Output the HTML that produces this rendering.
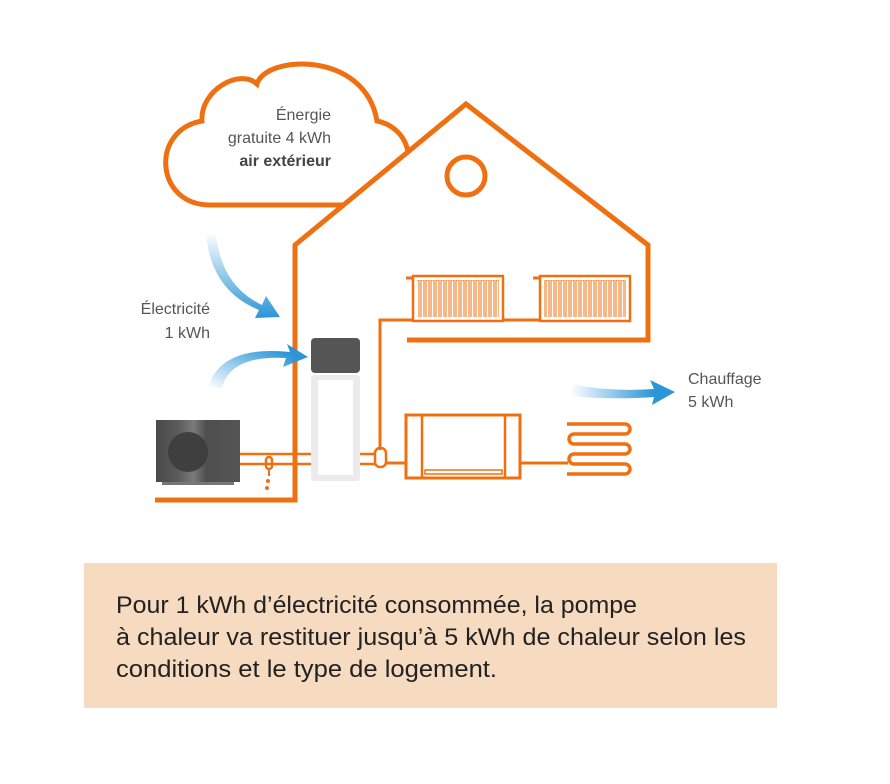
<!DOCTYPE html>
<html><head><meta charset="utf-8"><style>
html,body{margin:0;padding:0;background:#fff;}
svg{display:block;}
text{font-family:"Liberation Sans Narrow","Liberation Sans",sans-serif;}
</style></head><body>
<svg width="890" height="784" viewBox="0 0 890 784" xmlns="http://www.w3.org/2000/svg">
<defs>
<linearGradient id="g1" x1="0" y1="0" x2="0" y2="1"><stop offset="0" stop-color="#2b95d6" stop-opacity="0"/><stop offset="1" stop-color="#2b95d6"/></linearGradient>
<linearGradient id="g2" x1="0" y1="1" x2="1" y2="0"><stop offset="0" stop-color="#2b95d6" stop-opacity="0"/><stop offset="0.8" stop-color="#2b95d6"/></linearGradient>
<linearGradient id="g3" x1="0" y1="0" x2="1" y2="0"><stop offset="0" stop-color="#2b95d6" stop-opacity="0"/><stop offset="0.8" stop-color="#2b95d6"/></linearGradient>
<pattern id="rad" width="5" height="40" patternUnits="userSpaceOnUse"><rect x="1" y="0" width="3" height="40" fill="none" stroke="#ee7010" stroke-width="1"/></pattern>
<linearGradient id="unit" x1="0" y1="0" x2="1" y2="0"><stop offset="0" stop-color="#4a4a4a"/><stop offset="0.25" stop-color="#5a5a5a"/><stop offset="0.45" stop-color="#7a7a7a"/><stop offset="0.6" stop-color="#4e4e4e"/><stop offset="1" stop-color="#555"/></linearGradient>
</defs>
<g fill="none" stroke="#ee7010" stroke-width="5">
<path d="M345,205 L210,205 C155,205 150,130 202,121 C200,90 240,68 257,84 C265,55 365,50 377,121 C392,124 405,135 408,152"/>
<path d="M155,500 L295,500 L295,245 L466,104 L648,245 L648,340 L407,340"/>
<circle cx="466" cy="176" r="19"/>
</g>
<g fill="none" stroke="#ee7010">
<path d="M380,450 L380,320 L413,320 M503,320 L540,320" stroke-width="3"/>
<path d="M406,278 L413,278 M533,278 L540,278" stroke-width="3"/>
<rect x="413" y="276" width="90" height="45" stroke-width="2.5"/>
<rect x="540" y="276" width="90" height="45" stroke-width="2.5"/>
</g>
<rect x="417" y="280" width="82" height="37" fill="url(#rad)"/>
<rect x="544" y="280" width="82" height="37" fill="url(#rad)"/>
<rect x="156" y="420" width="84" height="62" fill="url(#unit)"/>
<circle cx="188" cy="452" r="20" fill="#3f3f3f"/>
<rect x="162" y="482" width="72" height="3" fill="#777"/>
<g stroke="#ee7010" stroke-width="2.5" fill="none">
<path d="M240,454 L311,454 M240,464 L311,464 M358,454 L376,454 M358,464 L376,464"/>
<rect x="266" y="457" width="6" height="12" rx="3"/>
<rect x="375" y="448" width="11" height="19" rx="5"/>
<path d="M386,463 L406,463 M520,463 L568,463" stroke-width="3"/>
<rect x="406" y="415" width="114" height="63" stroke-width="3"/>
<path d="M422,415 L422,478 M505,415 L505,478" stroke-width="2.5"/>
<rect x="425" y="470" width="77" height="4" stroke-width="1.5"/>
<path d="M567,424 L625,424 A5,5 0 0 1 625,434 L574,434 A5,5 0 0 0 574,444 L625,444 A5,5 0 0 1 625,454 L574,454 A5,5 0 0 0 574,464 L625,464 A5,5 0 0 1 625,474 L567,474" stroke-width="3.5"/>
</g>
<path d="M269,470 L269,476" stroke="#ee7010" stroke-width="2"/>
<circle cx="268" cy="481" r="2" fill="#ee7010"/>
<circle cx="267" cy="488" r="2" fill="#ee7010"/>
<rect x="311" y="375" width="49" height="106" rx="3" fill="#ebebeb"/>
<rect x="318" y="380" width="35" height="95" fill="#fff"/>
<rect x="311" y="338" width="49" height="35" rx="4" fill="#555"/>
<path d="M216,232 Q220,285 262,305 L266,296 L280,317 L255,318 L259,310 Q210,290 206,232 Z" fill="url(#g1)"/>
<path d="M208,388 Q220,345 290,352 L287,344 L308,357 L283,367 L286,358 Q230,355 222,388 Z" fill="url(#g2)"/>
<path d="M570,384 Q610,392 654,389 L650,380 L675,392 L652,405 L654,397 Q610,400 570,396 Z" fill="url(#g3)"/>
<g fill="#555" font-size="16" text-anchor="end">
<text x="331" y="120">Énergie</text>
<text x="331" y="143">gratuite 4 kWh</text>
<text x="331" y="166" fill="#444" font-weight="bold">air extérieur</text>
<text x="210" y="314">Électricité</text>
<text x="210" y="338">1 kWh</text>
</g>
<g fill="#555" font-size="16">
<text x="688" y="384">Chauffage</text>
<text x="688" y="407">5 kWh</text>
</g>
<rect x="84" y="563" width="693" height="145" fill="#f7dbc1"/>
<g fill="#222" font-size="24">
<text x="116" y="613" textLength="521" lengthAdjust="spacingAndGlyphs">Pour 1 kWh d’électricité consommée, la pompe</text>
<text x="116" y="645" textLength="630" lengthAdjust="spacingAndGlyphs">à chaleur va restituer jusqu’à 5 kWh de chaleur selon les</text>
<text x="116" y="677" textLength="381" lengthAdjust="spacingAndGlyphs">conditions et le type de logement.</text>
</g>
</svg>
</body></html>
